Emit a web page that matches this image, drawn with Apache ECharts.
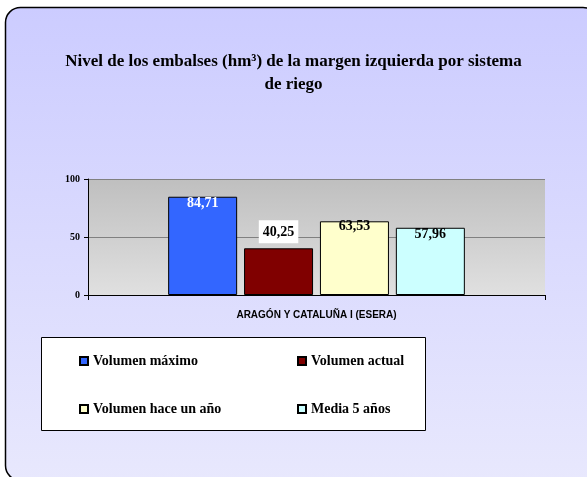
<!DOCTYPE html>
<html>
<head>
<meta charset="utf-8">
<script src="https://cdn.jsdelivr.net/npm/echarts@6/dist/echarts.min.js"></script>
<style>
html, body { margin: 0; padding: 0; background: #fff; }
#chart { width: 587px; height: 477px; }
</style>
</head>
<body>
<div id="chart"></div>
<script>
var categories = ['ARAGÓN Y CATALUÑA I (ESERA)'];
var seriesNames = ['Volumen máximo', 'Volumen actual', 'Volumen hace un año', 'Media 5 años'];
var volumenMaximo = [84.71];
var volumenActual = [40.25];
var volumenHaceUnAno = [63.53];
var media5Anos = [57.96];
var yTicks = [0, 50, 100];

var chart = echarts.init(document.getElementById('chart'));

function fmt(p) {
	return p.value.toFixed(2).replace('.', ',');
}

var labelFont = {
	fontFamily: 'Liberation Serif',
	fontWeight: 'bold',
	fontSize: 14
};

function bar(name, data, color, label) {
	return {
		name: name,
		type: 'bar',
		data: data,
		barWidth: 69,
		barGap: '10%',
		itemStyle: { color: color, borderColor: '#000', borderWidth: 1 },
		label: Object.assign({ show: true, formatter: fmt }, labelFont, label)
	};
}

function legendAt(name, left, top) {
	return {
		data: [{ name: name, icon: 'rect' }],
		left: left,
		top: top,
		itemWidth: 8,
		itemHeight: 8,
		padding: 0,
		selectedMode: false,
		textStyle: {
			fontFamily: 'Liberation Serif',
			fontWeight: 'bold',
			fontSize: 14,
			color: '#000'
		}
	};
}

var option = {
	animation: false,
	graphic: [
		{
			type: 'rect',
			z: -10,
			shape: { x: 5.5, y: 7.5, width: 592.5, height: 473, r: 15 },
			style: {
				fill: new echarts.graphic.LinearGradient(0, 0, 0, 1, [
					{ offset: 0, color: '#ccccff' },
					{ offset: 1, color: '#e8e8fd' }
				]),
				stroke: '#000',
				lineWidth: 1.5
			}
		},
		{
			type: 'rect',
			z: -5,
			shape: { x: 41.5, y: 337.5, width: 384, height: 93 },
			style: { fill: '#fff', stroke: '#000', lineWidth: 1 }
		}
	],
	title: {
		text: 'Nivel de los embalses (hm³) de la margen izquierda por sistema\nde riego',
		left: 'center',
		top: 45,
		textStyle: {
			fontFamily: 'Liberation Serif',
			fontWeight: 'bold',
			fontSize: 17,
			lineHeight: 23,
			color: '#000',
			align: 'center'
		}
	},
	legend: [
		legendAt(seriesNames[0], 79, 354),
		legendAt(seriesNames[1], 297, 354),
		legendAt(seriesNames[2], 79, 402),
		legendAt(seriesNames[3], 297, 402)
	],
	grid: {
		left: 88,
		right: 42,
		top: 179,
		bottom: 182,
		show: true,
		borderWidth: 0,
		backgroundColor: new echarts.graphic.LinearGradient(0, 0, 0, 1, [
			{ offset: 0, color: '#bfbfbf' },
			{ offset: 1, color: '#e0e0e0' }
		])
	},
	xAxis: {
		type: 'category',
		data: categories,
		axisLine: { lineStyle: { color: '#000', width: 1 } },
		axisTick: { show: true, length: 5, lineStyle: { color: '#000' } },
		axisLabel: {
			margin: 15,
			color: '#000',
			fontFamily: 'Liberation Sans',
			fontWeight: 'bold',
			fontSize: 10
		}
	},
	yAxis: {
		type: 'value',
		min: yTicks[0],
		max: yTicks[yTicks.length - 1],
		interval: 50,
		axisLine: { show: true, lineStyle: { color: '#000', width: 1 } },
		axisTick: { show: true, length: 4, lineStyle: { color: '#000' } },
		splitLine: { lineStyle: { color: '#808080', width: 1 } },
		axisLabel: {
			margin: 8,
			color: '#000',
			fontFamily: 'Liberation Serif',
			fontWeight: 'bold',
			fontSize: 10
		}
	},
	series: [
		bar(seriesNames[0], volumenMaximo, '#3366ff', { position: 'insideTop', distance: 0, color: '#fff' }),
		bar(seriesNames[1], volumenActual, '#800000', { position: 'top', distance: 5, color: '#000', backgroundColor: '#fff', padding: [5, 4, 4, 4] }),
		bar(seriesNames[2], volumenHaceUnAno, '#ffffcc', { position: 'top', distance: -12, color: '#000' }),
		bar(seriesNames[3], media5Anos, '#ccffff', { position: 'insideTop', distance: 0, color: '#000' })
	]
};

chart.setOption(option);
</script>
</body>
</html>
